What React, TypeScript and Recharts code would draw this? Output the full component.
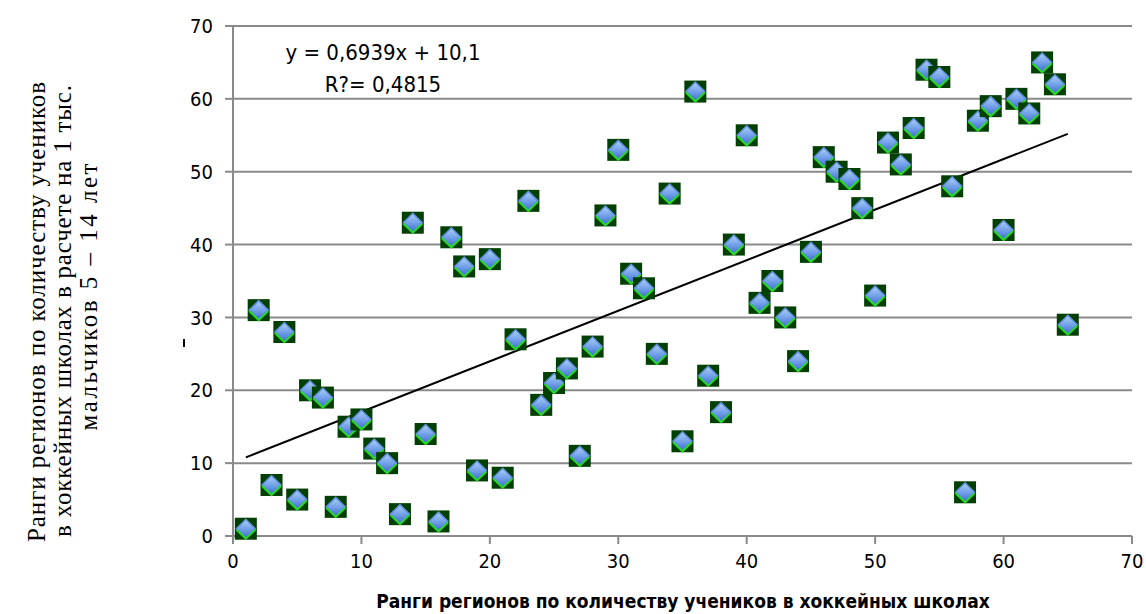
import {
  ScatterChart,
  Scatter,
  XAxis,
  YAxis,
  CartesianGrid,
  ReferenceLine,
} from "recharts";

// ranks: x = school pupils rank, y = per-1000-boys rank
const xRanks = [
  1, 2, 3, 4, 5, 6, 7, 8, 9, 10, 11, 12, 13, 14, 15, 16, 17, 18, 19, 20, 21,
  22, 23, 24, 25, 26, 27, 28, 29, 30, 31, 32, 33, 34, 35, 36, 37, 38, 39, 40,
  41, 42, 43, 44, 45, 46, 47, 48, 49, 50, 51, 52, 53, 54, 55, 56, 57, 58, 59,
  60, 61, 62, 63, 64, 65,
];
const yRanks = [
  1, 31, 7, 28, 5, 20, 19, 4, 15, 16, 12, 10, 3, 43, 14, 2, 41, 37, 9, 38, 8,
  27, 46, 18, 21, 23, 11, 26, 44, 53, 36, 34, 25, 47, 13, 61, 22, 17, 40, 55,
  32, 35, 30, 24, 39, 52, 50, 49, 45, 33, 54, 51, 56, 64, 63, 48, 6, 57, 59,
  42, 60, 58, 65, 62, 29,
];

// trend line ends as drawn in the picture
const trendX = [1, 65];
const trendY = [10.8, 55.2];

const axisTicks = [0, 10, 20, 30, 40, 50, 60, 70];

const equationText = "y = 0,6939x + 10,1";
const r2Text = "R?= 0,4815";
const xTitle = "Ранги регионов по количеству учеников в хоккейных школах";
const yTitleLines = [
  "Ранги регионов по количеству учеников",
  "в хоккейных школах в расчете на 1 тыс.",
  "мальчиков 5 – 14 лет",
];

const points = xRanks.map((x, i) => ({ x, y: yRanks[i] }));

const narrow = "'Liberation Sans Narrow', 'DejaVu Sans Condensed', sans-serif";
const gridGray = "#8a8a8a";

const GemMarker = (props: any) => {
  const { cx, cy } = props;
  if (cx == null || cy == null) return null;
  const h = 11;
  const d = 9.5;
  return (
    <g>
      <rect x={cx - h} y={cy - h} width={h * 2} height={h * 2} fill="#023f02" />
      <polygon
        points={`${cx},${cy - d} ${cx + d},${cy} ${cx},${cy + d} ${cx - d},${cy}`}
        fill="url(#gemFill)"
        stroke="#5f8fdc"
        strokeWidth={1.5}
        strokeLinejoin="round"
      />
      <polyline
        points={`${cx - d},${cy + 1} ${cx},${cy + d + 0.5} ${cx + d},${cy + 1}`}
        fill="none"
        stroke="#27d827"
        strokeWidth={2}
      />
    </g>
  );
};

export default function App() {
  const lines = [36, 62, 88];
  const centers = [312, 311, 297];
  const lengths = [460, 452, 267];
  return (
    <div
      style={{
        position: "absolute",
        left: 0,
        top: 0,
        width: 1146,
        height: 614,
        background: "#fff",
      }}
    >
      <ScatterChart
        width={1146}
        height={614}
        margin={{ top: 26, right: 14, bottom: 48, left: 173 }}
      >
        <defs>
          <linearGradient id="gemFill" x1="0" y1="0" x2="0" y2="1">
            <stop offset="0%" stopColor="#b2d0f7" />
            <stop offset="50%" stopColor="#74a2e9" />
            <stop offset="100%" stopColor="#3c6bd0" />
          </linearGradient>
        </defs>
        <CartesianGrid vertical={false} stroke={gridGray} strokeWidth={2} />
        <XAxis
          type="number"
          dataKey="x"
          domain={[0, 70]}
          ticks={axisTicks}
          interval={0}
          height={30}
          stroke={gridGray}
          strokeWidth={2}
          tickSize={8}
          tickMargin={10}
          tick={{ fill: "#000", fontSize: 20, fontFamily: narrow }}
        />
        <YAxis
          type="number"
          dataKey="y"
          domain={[0, 70]}
          ticks={axisTicks}
          interval={0}
          width={60}
          stroke={gridGray}
          strokeWidth={2}
          tickSize={8}
          tickMargin={12}
          tick={{ fill: "#000", fontSize: 20, fontFamily: narrow }}
        />
        <Scatter data={points} shape={GemMarker} isAnimationActive={false} />
        <ReferenceLine
          segment={[
            { x: trendX[0], y: trendY[0] },
            { x: trendX[1], y: trendY[1] },
          ]}
          stroke="#000"
          strokeWidth={2}
        />
      </ScatterChart>

      <div
        style={{
          position: "absolute",
          left: 233,
          width: 300,
          top: 37,
          textAlign: "center",
          fontFamily: narrow,
          fontSize: 22,
          lineHeight: "32px",
          color: "#000",
        }}
      >
        <div>{equationText}</div>
        <div>{r2Text}</div>
      </div>

      <div
        style={{
          position: "absolute",
          left: 233,
          width: 900,
          top: 590,
          textAlign: "center",
          fontFamily: narrow,
          fontWeight: "bold",
          fontSize: 19,
          color: "#000",
        }}
      >
        {xTitle}
      </div>

      <svg
        width={200}
        height={614}
        style={{ position: "absolute", left: 0, top: 0 }}
      >
        {yTitleLines.map((t, i) => (
          <text
            key={i}
            x={lines[i]}
            y={centers[i]}
            transform={`rotate(-90 ${lines[i]} ${centers[i]})`}
            textAnchor="middle"
            dominantBaseline="central"
            textLength={lengths[i]}
            lengthAdjust="spacing"
            fontFamily="'Liberation Serif', 'Times New Roman', serif"
            fontSize={25}
            fill="#000"
          >
            {t}
          </text>
        ))}
        <rect x={183} y={339} width={2} height={8} fill="#000" />
      </svg>
    </div>
  );
}
